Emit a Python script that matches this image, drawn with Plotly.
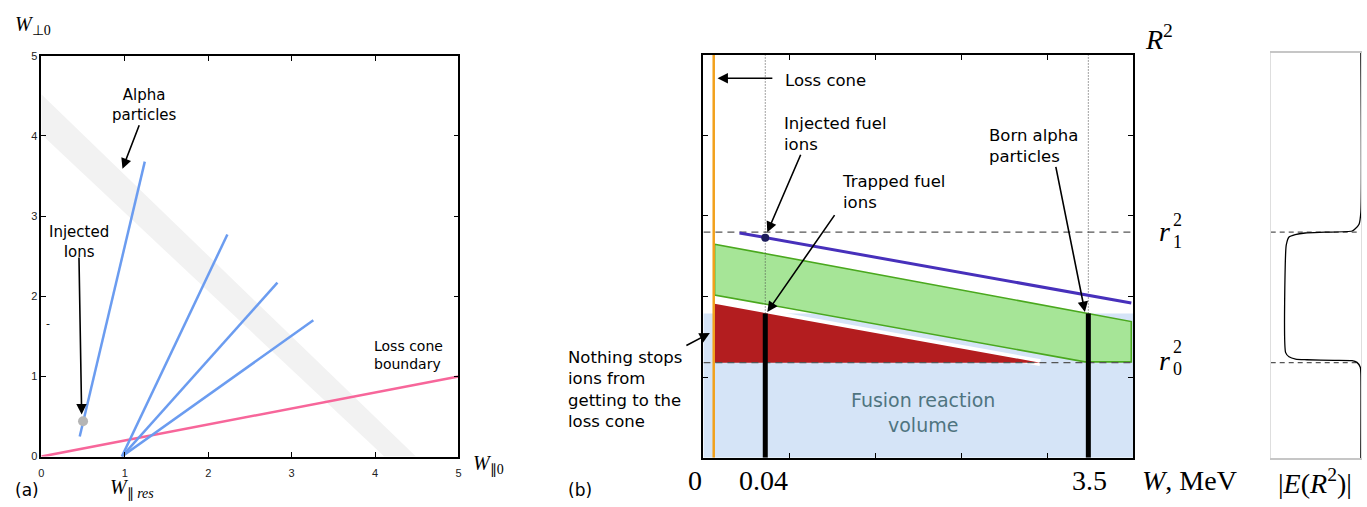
import plotly.graph_objects as go

W, H = 1367, 507

# ---------------- Panel (a) data ----------------
A_TICKS = [0, 1, 2, 3, 4, 5]
ALPHA_BAND_X = [0, 4.49, 4.11, 0]
ALPHA_BAND_Y = [4.52, 0, 0, 4.02]
LOSS_CONE_A_X = [0, 5]
LOSS_CONE_A_Y = [0, 1]
INJ_LINE_X = [0.46, 1.24]
INJ_LINE_Y = [0.25, 3.68]
FAN_START_X = 0.965
FAN_START_Y = 0.0
FAN_END_X = [2.23, 2.83, 3.26]
FAN_END_Y = [2.77, 2.17, 1.70]
INJ_POINT_X = [0.50]
INJ_POINT_Y = [0.44]

# ---------------- Panel (b) data ----------------
B_TICKS = [0, 1, 2, 3, 4, 5]
FUSION_X = [0, 5, 5, 0]
FUSION_Y = [0, 0, 1.79, 1.79]
LOSS_CONE_W = 0.12
R1SQ = 2.80
R0SQ = 1.18
W_INJ = 0.72
W_ALPHA = 4.48
BAR_TOP = 1.79
BLUE_X = [0.42, 4.98]
BLUE_Y = [2.79, 1.92]
INJ_DOT_X = [0.72]
INJ_DOT_Y = [2.73]
GREEN_X = [0.13, 4.98, 4.98, 4.44, 0.13, 0.13]
GREEN_Y = [2.65, 1.69, 1.19, 1.19, 2.02, 2.65]
RED_X = [0.13, 3.92, 0.13, 0.13]
RED_Y = [1.91, 1.18, 1.18, 1.91]
W_LABELS = ["0", "0.04", "3.5"]

# ---------------- Panel (c) data ----------------
E_X = [0.995, 0.995, 0.975, 0.93, 0.898, 0.60, 0.381, 0.271, 0.202, 0.173, 0.165,
       0.165, 0.202, 0.275, 0.40, 0.70, 0.898, 0.952, 0.989, 0.995, 0.995]
E_Y = [5.03, 3.05, 2.90, 2.84, 2.815, 2.80, 2.79, 2.77, 2.74, 2.65, 2.55,
       1.305, 1.253, 1.224, 1.217, 1.21, 1.205, 1.184, 1.124, 1.042, -0.007]


def PX(x):
    return x / W


def PY(y):
    return 1 - y / H


fig = go.Figure()

# ---- panel (a) ----
fig.add_trace(go.Scatter(x=ALPHA_BAND_X, y=ALPHA_BAND_Y, fill="toself", mode="lines",
                         line=dict(width=0), fillcolor="#f2f2f2", xaxis="x", yaxis="y"))
fig.add_trace(go.Scatter(x=LOSS_CONE_A_X, y=LOSS_CONE_A_Y, mode="lines",
                         line=dict(color="#f7669a", width=2.5), xaxis="x", yaxis="y"))
fig.add_trace(go.Scatter(x=INJ_LINE_X, y=INJ_LINE_Y, mode="lines",
                         line=dict(color="#6b9cf0", width=2.5), xaxis="x", yaxis="y"))
for ex, ey in zip(FAN_END_X, FAN_END_Y):
    fig.add_trace(go.Scatter(x=[FAN_START_X, ex], y=[FAN_START_Y, ey], mode="lines",
                             line=dict(color="#6b9cf0", width=2.5), xaxis="x", yaxis="y"))
fig.add_trace(go.Scatter(x=INJ_POINT_X, y=INJ_POINT_Y, mode="markers",
                         marker=dict(color="#b5b5b5", size=10), xaxis="x", yaxis="y"))

# ---- panel (b) ----
fig.add_trace(go.Scatter(x=FUSION_X, y=FUSION_Y, fill="toself", mode="lines",
                         line=dict(width=0), fillcolor="#d5e4f7", xaxis="x2", yaxis="y2"))
fig.add_trace(go.Scatter(x=GREEN_X, y=GREEN_Y, fill="toself", mode="lines",
                         line=dict(color="#4aa81e", width=1.6), fillcolor="#a6e597",
                         xaxis="x2", yaxis="y2"))
# white rim above the red triangle
fig.add_trace(go.Scatter(x=RED_X[:2], y=RED_Y[:2], mode="lines",
                         line=dict(color="white", width=7), xaxis="x2", yaxis="y2"))
fig.add_trace(go.Scatter(x=RED_X, y=RED_Y, fill="toself", mode="lines",
                         line=dict(width=0), fillcolor="#b31d1f", xaxis="x2", yaxis="y2"))
for r in (R1SQ, R0SQ):
    fig.add_trace(go.Scatter(x=[0, 5], y=[r, r], mode="lines",
                             line=dict(color="#555555", width=1.2, dash="7px,5px"),
                             xaxis="x2", yaxis="y2"))
for wv in (W_INJ, W_ALPHA):
    fig.add_trace(go.Scatter(x=[wv, wv], y=[BAR_TOP, 5], mode="lines",
                             line=dict(color="#444444", width=1, dash="1px,2px"),
                             xaxis="x2", yaxis="y2"))
    fig.add_trace(go.Scatter(x=[wv, wv], y=[0, BAR_TOP], mode="lines",
                             line=dict(color="black", width=5), xaxis="x2", yaxis="y2"))
fig.add_trace(go.Scatter(x=[LOSS_CONE_W, LOSS_CONE_W], y=[0, 5], mode="lines",
                         line=dict(color="#f2a11c", width=2.5), xaxis="x2", yaxis="y2"))
fig.add_trace(go.Scatter(x=BLUE_X, y=BLUE_Y, mode="lines",
                         line=dict(color="#4730bb", width=3), xaxis="x2", yaxis="y2"))
fig.add_trace(go.Scatter(x=INJ_DOT_X, y=INJ_DOT_Y, mode="markers",
                         marker=dict(color="#1c1c5c", size=8), xaxis="x2", yaxis="y2"))

# ---- panel (c) ----
for r in (R1SQ, R0SQ):
    fig.add_trace(go.Scatter(x=[0, 0.95], y=[r, r], mode="lines",
                             line=dict(color="#555555", width=1.2, dash="5px,4px"),
                             xaxis="x3", yaxis="y3"))
fig.add_trace(go.Scatter(x=E_X, y=E_Y, mode="lines", line_shape="spline",
                         line=dict(color="black", width=1.3, smoothing=0.6),
                         xaxis="x3", yaxis="y3"))

tickfont = dict(family="Liberation Sans Narrow, Liberation Sans, sans-serif", size=11, color="#222")
common_a = dict(range=[0, 5], tickvals=A_TICKS, ticks="inside", ticklen=5, tickwidth=1.2,
                tickcolor="black", showline=True, linecolor="black", linewidth=1.5,
                mirror="ticks", showgrid=False, zeroline=False, tickfont=tickfont)
common_b = dict(range=[0, 5], tickvals=B_TICKS, ticks="inside", ticklen=5, tickwidth=1.2,
                tickcolor="black", showline=True, linecolor="black", linewidth=1.5,
                mirror="ticks", showgrid=False, zeroline=False, showticklabels=False)

fig.update_layout(
    width=W, height=H, margin=dict(l=0, r=0, t=0, b=0), autosize=False,
    paper_bgcolor="white", plot_bgcolor="white", showlegend=False, hovermode=False,
    xaxis=dict(domain=[PX(38.5), PX(457.5)], anchor="y", ticklabelstandoff=5, **common_a),
    yaxis=dict(domain=[PY(461.5), PY(51)], anchor="x", **common_a),
    xaxis2=dict(domain=[PX(703.5), PX(1135)], anchor="y2", **common_b),
    yaxis2=dict(domain=[PY(462.7), PY(50)], anchor="x2", **common_b),
    xaxis3=dict(domain=[PX(1273.3), PX(1364.3)], anchor="y3", range=[0, 1],
                showline=True, linecolor="#c6c6c6", linewidth=2, mirror=True,
                showgrid=False, zeroline=False, showticklabels=False, ticks=""),
    yaxis3=dict(domain=[PY(463.3), PY(47.7)], anchor="x3", range=[-0.007, 5.03],
                showline=True, linecolor="#dedede", linewidth=1, mirror=True,
                showgrid=False, zeroline=False, showticklabels=False, ticks=""),
)

SANS = "DejaVu Sans, sans-serif"
SERIF = "Liberation Serif, serif"
anns = []


def text(px, py, s, size, family=SANS, xanchor="left", color="black", yanchor="middle", pad=1):
    anns.append(dict(x=PX(px), y=PY(py), xref="paper", yref="paper", text=s,
                     showarrow=False, xanchor=xanchor, yanchor=yanchor, borderpad=pad,
                     align=xanchor if xanchor != "center" else "center",
                     font=dict(family=family, size=size, color=color)))


def arrow(tx, ty, hx, hy):
    anns.append(dict(x=PX(hx), y=PY(hy), xref="paper", yref="paper", text="",
                     showarrow=True, ax=tx - hx, ay=ty - hy, arrowhead=2, arrowsize=1.3,
                     arrowwidth=1.6, arrowcolor="black", standoff=0, startstandoff=0))


# panel (a) texts
text(10, 20, "<i>W</i><sub>⊥0</sub>", 20, SERIF)
text(470, 470, "<i>W</i><sub>∥0</sub>", 20, SERIF)
text(105, 494, "<i>W</i><sub>∥ <i>res</i></sub>", 20, SERIF)
text(10, 496, "(a)", 17)
text(141.7, 101.3, "Alpha<br>particles", 15, xanchor="center")
text(76, 241.7, "Injected<br>Ions", 15, xanchor="center")
text(371, 357, "Loss cone<br>boundary", 14)
text(45, 325, "-", 11, xanchor="center")
arrow(137.3, 121.7, 120, 166.7)
arrow(76.3, 260, 79, 418.3)

# panel (b) texts
text(783, 76.7, "Loss cone", 16.5)
arrow(774, 74, 717.7, 74)
text(782, 130.8, "Injected fuel<br>ions", 16.5)
arrow(801.7, 152.7, 767.7, 231.7)
text(841, 190.8, "Trapped fuel<br>ions", 16.5)
arrow(836, 215, 767.7, 313.3)
text(988.3, 143.3, "Born alpha<br>particles", 16.5)
arrow(1057.3, 166.7, 1086.7, 313.3)
text(565, 392.7, "Nothing stops<br>ions from<br>getting to the<br>loss cone", 16.5)
arrow(685, 348.3, 710, 335)
text(924.4, 416.7, "Fusion reaction<br>volume", 19, xanchor="center", color="#4f7480")
text(695, 486, W_LABELS[0], 28, SERIF, xanchor="center")
text(764, 486, W_LABELS[1], 28, SERIF, xanchor="center")
text(1091, 486, W_LABELS[2], 28, SERIF, xanchor="center")
text(1142, 486, "<i>W</i>, MeV", 28, SERIF)
text(1145, 32, "<i>R</i><sup>2</sup>", 28, SERIF)
# r1^2 and r0^2 with stacked indices
text(1159, 231, "<i>r</i>", 28, SERIF)
text(1174, 230, "2", 18, SERIF, yanchor="bottom", pad=0)
text(1174, 230, "1", 18, SERIF, yanchor="top", pad=0)
text(1159, 363, "<i>r</i>", 28, SERIF)
text(1174, 361, "2", 18, SERIF, yanchor="bottom", pad=0)
text(1174, 361, "0", 18, SERIF, yanchor="top", pad=0)
text(565, 496, "(b)", 17)

# panel (c) text
text(1317.5, 487, "|<i>E</i>(<i>R</i><sup>2</sup>)|", 28, SERIF, xanchor="center")

fig.update_layout(annotations=anns)
fig.write_html("out.html", config={"displayModeBar": False},
               post_script="document.body.style.margin='0';")
